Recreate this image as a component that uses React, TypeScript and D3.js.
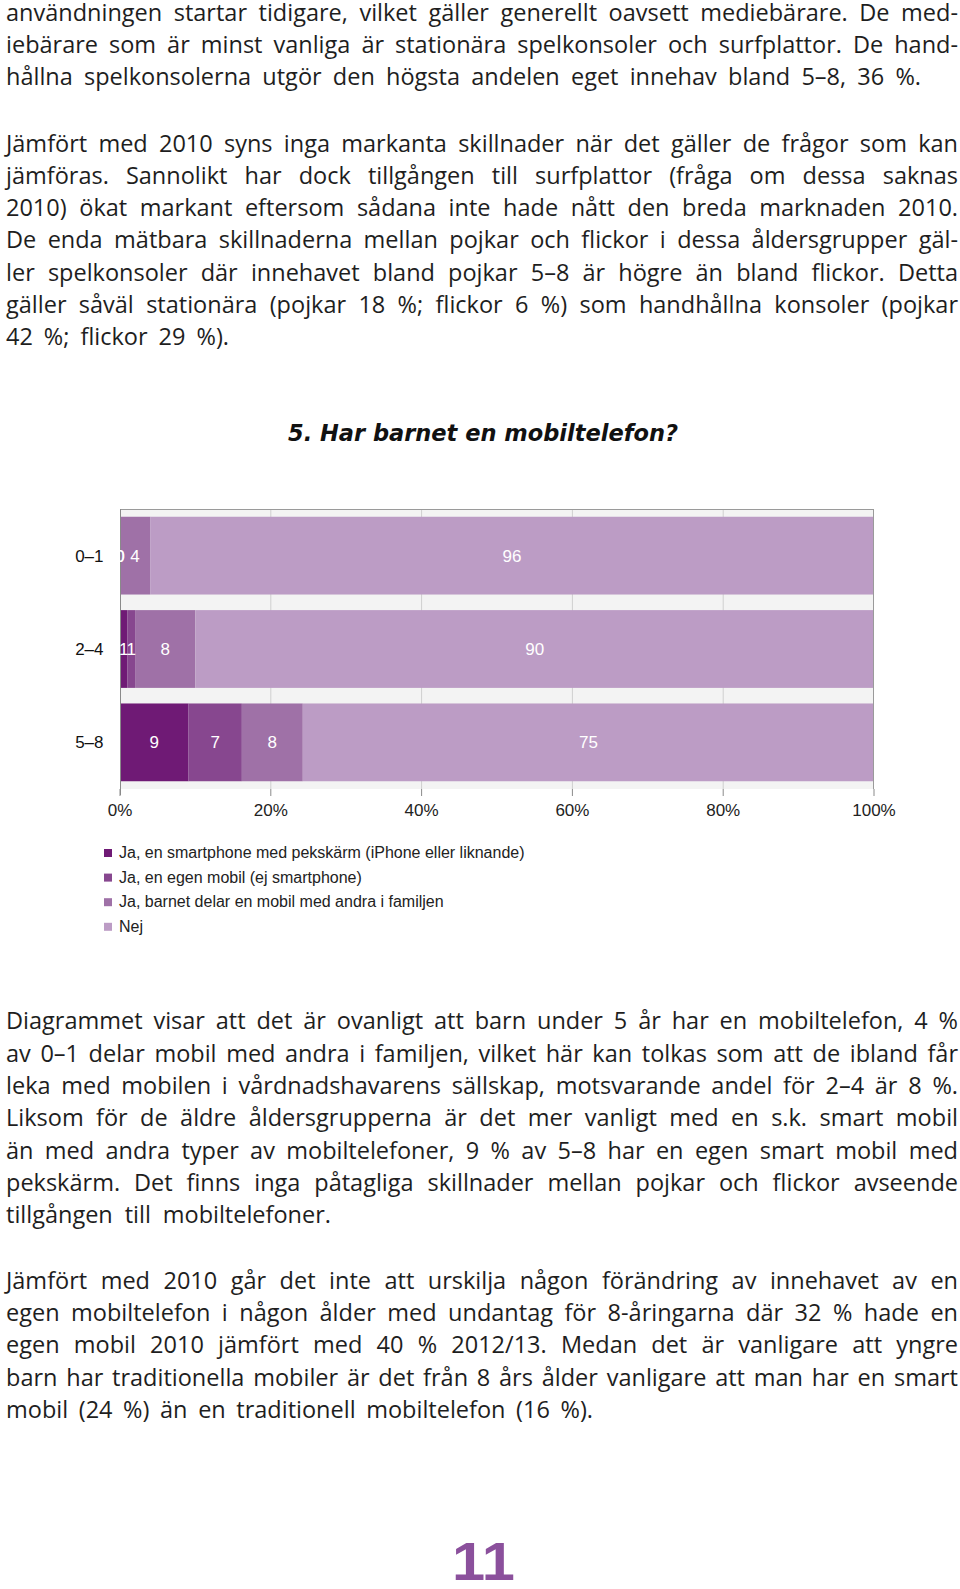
import React, { useEffect, useRef } from "react";
import * as d3 from "d3";

// ---------- data ----------
const categories = ["0–1", "2–4", "5–8"];
const seriesNames = [
  "Ja, en smartphone med pekskärm (iPhone eller liknande)",
  "Ja, en egen mobil (ej smartphone)",
  "Ja, barnet delar en mobil med andra i familjen",
  "Nej",
];
const smartphoneValues = [0, 1, 9];
const egenMobilValues = [0, 1, 7];
const delarValues = [4, 8, 8];
const nejValues = [96, 90, 75];
const xTicks = [0, 0.2, 0.4, 0.6, 0.8, 1];
const seriesColors = ["#6f1a75", "#87478f", "#9f71a7", "#bc9cc5"];

const chartTitle = "5. Har barnet en mobiltelefon?";
const pageNumber = "11";

const para1 = [
  "användningen startar tidigare, vilket gäller generellt oavsett mediebärare. De med-",
  "iebärare som är minst vanliga är stationära spelkonsoler och surfplattor. De hand-",
  "hållna spelkonsolerna utgör den högsta andelen eget innehav bland 5–8, 36 %.",
];
const para2 = [
  "Jämfört med 2010 syns inga markanta skillnader när det gäller de frågor som kan",
  "jämföras. Sannolikt har dock tillgången till surfplattor (fråga om dessa saknas",
  "2010) ökat markant eftersom sådana inte hade nått den breda marknaden 2010.",
  "De enda mätbara skillnaderna mellan pojkar och flickor i dessa åldersgrupper gäl-",
  "ler spelkonsoler där innehavet bland pojkar 5–8 är högre än bland flickor. Detta",
  "gäller såväl stationära (pojkar 18 %; flickor 6 %) som handhållna konsoler (pojkar",
  "42 %; flickor 29 %).",
];
const para3 = [
  "Diagrammet visar att det är ovanligt att barn under 5 år har en mobiltelefon, 4 %",
  "av 0–1 delar mobil med andra i familjen, vilket här kan tolkas som att de ibland får",
  "leka med mobilen i vårdnadshavarens sällskap, motsvarande andel för 2–4 är 8 %.",
  "Liksom för de äldre åldersgrupperna är det mer vanligt med en s.k. smart mobil",
  "än med andra typer av mobiltelefoner, 9 % av 5–8 har en egen smart mobil med",
  "pekskärm. Det finns inga påtagliga skillnader mellan pojkar och flickor avseende",
  "tillgången till mobiltelefoner.",
];
const para4 = [
  "Jämfört med 2010 går det inte att urskilja någon förändring av innehavet av en",
  "egen mobiltelefon i någon ålder med undantag för 8-åringarna där 32 % hade en",
  "egen mobil 2010 jämfört med 40 % 2012/13. Medan det är vanligare att yngre",
  "barn har traditionella mobiler är det från 8 års ålder vanligare att man har en smart",
  "mobil (24 %) än en traditionell mobiltelefon (16 %).",
];

const W = 960;
const H = 1589;

export default function App() {
  const ref = useRef<SVGSVGElement>(null);

  useEffect(() => {
    const svg = d3.select(ref.current as SVGSVGElement);
    svg.selectAll("*").remove();
    const font = "'Liberation Sans', Arial, Helvetica, sans-serif";
    const bodyFont = "'Open Sans', 'Noto Sans', sans-serif";

    svg.append("rect").attr("width", W).attr("height", H).attr("fill", "#ffffff");

    // ---------- body text (justified lines) ----------
    const LH = 32.3;
    const X0 = 6;
    const FULL = 952;
    const baseSize = 23.5;
    const measure = (s: string, size: number) => {
      const tmp = svg
        .append("text")
        .attr("font-family", bodyFont)
        .attr("font-size", size)
        .text(s);
      const w = (tmp.node() as SVGTextElement).getComputedTextLength();
      tmp.remove();
      return w;
    };
    const drawParagraph = (lines: string[], y0: number, lastWidth: number) => {
      lines.forEach((line, i) => {
        const y = y0 + i * LH;
        const target = i === lines.length - 1 ? lastWidth : FULL;
        const words = line.split(" ");
        let size = baseSize;
        let widths = words.map((w) => measure(w, size));
        const minGap = 4.5;
        const need = d3.sum(widths) + minGap * (words.length - 1);
        if (need > target) {
          size = (baseSize * (target - minGap * (words.length - 1))) / d3.sum(widths);
          widths = words.map((w) => measure(w, size));
        }
        const gap = words.length > 1 ? (target - d3.sum(widths)) / (words.length - 1) : 0;
        const t = svg
          .append("text")
          .attr("y", y)
          .attr("font-family", bodyFont)
          .attr("font-size", size)
          .attr("fill", "#1e1e1e");
        let x = X0;
        words.forEach((w, j) => {
          t.append("tspan")
            .attr("x", x)
            .attr("y", y)
            .text(j < words.length - 1 ? w + " " : w);
          x += widths[j] + gap;
        });
      });
    };
    drawParagraph(para1, 20.5, 915);
    drawParagraph(para2, 151.5, 223);
    drawParagraph(para3, 1029.3, 325);
    drawParagraph(para4, 1288.8, 587);

    // ---------- chart title ----------
    svg
      .append("text")
      .attr("x", 483)
      .attr("y", 441)
      .attr("text-anchor", "middle")
      .attr("font-family", "'DejaVu Sans', 'Liberation Sans', sans-serif")
      .attr("font-weight", "bold")
      .attr("font-style", "italic")
      .attr("font-size", 23)
      .attr("textLength", 390)
      .attr("lengthAdjust", "spacingAndGlyphs")
      .attr("fill", "#111")
      .text(chartTitle);

    // ---------- chart ----------
    const left = 120, right = 874, top = 509, bottom = 789;
    const x = d3.scaleLinear().domain([0, 1]).range([left, right]);
    const y = d3
      .scaleBand<string>()
      .domain(categories)
      .range([top, bottom])
      .paddingInner(0.167)
      .paddingOuter(0.083);

    const keys = ["s0", "s1", "s2", "s3"];
    const rows = categories.map((c, i) => ({
      cat: c,
      s0: smartphoneValues[i],
      s1: egenMobilValues[i],
      s2: delarValues[i],
      s3: nejValues[i],
    }));
    const stacked = d3
      .stack<any>()
      .keys(keys)
      .offset(d3.stackOffsetExpand)(rows);

    const g = svg.append("g");
    g.append("rect")
      .attr("x", left)
      .attr("y", top)
      .attr("width", right - left)
      .attr("height", bottom - top)
      .attr("fill", "#f3f3f3");

    g.selectAll("line.grid")
      .data(xTicks.slice(1, -1))
      .join("line")
      .attr("class", "grid")
      .attr("x1", (d) => x(d))
      .attr("x2", (d) => x(d))
      .attr("y1", top)
      .attr("y2", bottom)
      .attr("stroke", "#cfcfcf")
      .attr("stroke-width", 1);

    stacked.forEach((layer, li) => {
      g.append("g")
        .attr("fill", seriesColors[li])
        .selectAll("rect")
        .data(layer)
        .join("rect")
        .attr("x", (d: any) => x(d[0]))
        .attr("width", (d: any) => Math.max(0, x(d[1]) - x(d[0])))
        .attr("y", (d: any) => y(d.data.cat) as number)
        .attr("height", y.bandwidth());
    });

    g.append("line").attr("x1", left).attr("x2", right).attr("y1", top + 0.5).attr("y2", top + 0.5).attr("stroke", "#9a9a9a");
    g.append("line").attr("x1", right - 0.5).attr("x2", right - 0.5).attr("y1", top).attr("y2", bottom).attr("stroke", "#9a9a9a");
    g.append("line").attr("x1", left + 0.5).attr("x2", left + 0.5).attr("y1", top).attr("y2", bottom + 6).attr("stroke", "#8a8a8a");

    const axis = g.append("g");
    axis
      .selectAll("line")
      .data(xTicks)
      .join("line")
      .attr("x1", (d) => x(d))
      .attr("x2", (d) => x(d))
      .attr("y1", bottom)
      .attr("y2", bottom + 7)
      .attr("stroke", "#8a8a8a");
    axis
      .selectAll("text")
      .data(xTicks)
      .join("text")
      .attr("x", (d) => x(d))
      .attr("y", 816)
      .attr("text-anchor", "middle")
      .attr("font-family", font)
      .attr("font-size", 17)
      .attr("fill", "#222")
      .text((d) => d3.format(".0%")(d));

    g.selectAll("text.cat")
      .data(categories)
      .join("text")
      .attr("class", "cat")
      .attr("x", 103.5)
      .attr("y", (d) => (y(d) as number) + y.bandwidth() / 2 + 6)
      .attr("text-anchor", "end")
      .attr("font-family", font)
      .attr("font-size", 17)
      .attr("fill", "#111")
      .text((d) => d);

    const defs = svg.append("defs");
    defs
      .append("clipPath")
      .attr("id", "plotClip")
      .append("rect")
      .attr("x", left)
      .attr("y", top)
      .attr("width", right - left)
      .attr("height", bottom - top);
    const lbl = g.append("g").attr("clip-path", "url(#plotClip)");
    stacked.forEach((layer) => {
      lbl
        .append("g")
        .selectAll("text")
        .data(layer)
        .join("text")
        .attr("x", (d: any) => x((d[0] + d[1]) / 2))
        .attr("y", (d: any) => (y(d.data.cat) as number) + y.bandwidth() / 2 + 6)
        .attr("text-anchor", "middle")
        .attr("font-family", font)
        .attr("font-size", 17)
        .attr("fill", "#ffffff")
        .text((d: any) => String(d.data[layer.key]));
    });

    const lg = svg.append("g");
    seriesNames.forEach((name, i) => {
      const by = 858 + i * 24.6;
      lg.append("rect")
        .attr("x", 104)
        .attr("y", by - 9)
        .attr("width", 8)
        .attr("height", 8)
        .attr("fill", seriesColors[i]);
      lg.append("text")
        .attr("x", 119)
        .attr("y", by)
        .attr("font-family", font)
        .attr("font-size", 16)
        .attr("fill", "#222")
        .text(name);
    });

    svg
      .append("text")
      .attr("x", 452)
      .attr("y", 1580)
      .attr("font-family", font)
      .attr("font-weight", "bold")
      .attr("font-size", 53)
      .attr("textLength", 63)
      .attr("lengthAdjust", "spacingAndGlyphs")
      .attr("fill", "#8b509c")
      .text(pageNumber);
  }, []);

  return (
    <svg
      ref={ref}
      width={W}
      height={H}
      viewBox={`0 0 ${W} ${H}`}
      style={{ position: "absolute", left: 0, top: 0, display: "block" }}
    />
  );
}
